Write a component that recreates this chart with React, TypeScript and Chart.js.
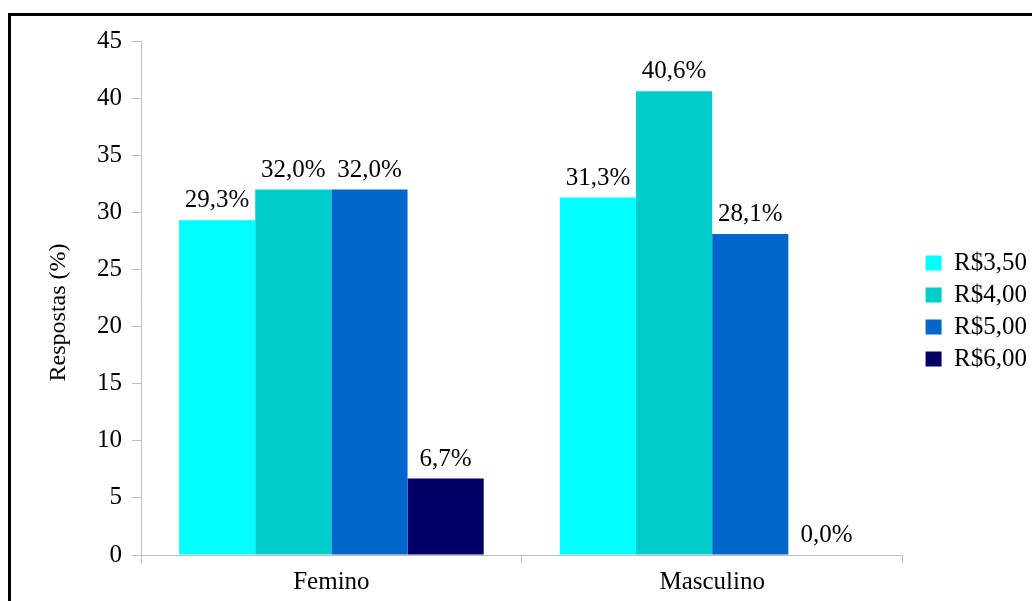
import React, { useEffect, useRef } from "react";
import { Chart, registerables } from "chart.js";

Chart.register(...registerables);

const categories = ["Femino", "Masculino"];
const seriesNames = ["R$3,50", "R$4,00", "R$5,00", "R$6,00"];
const seriesColors = ["#00FFFF", "#00CCCC", "#0066CC", "#000066"];
const values35 = [29.3, 31.3];
const values40 = [32.0, 40.6];
const values50 = [32.0, 28.1];
const values60 = [6.7, 0.0];
const yTicks = [0, 5, 10, 15, 20, 25, 30, 35, 40, 45];
const yTitle = "Respostas (%)";

const FONT = "'Liberation Serif', 'Times New Roman', serif";
const AXIS = "#bfbfbf";

const dataLabels = {
  id: "dataLabels",
  afterDatasetsDraw(chart: any) {
    const ctx = chart.ctx;
    ctx.save();
    ctx.font = `25px ${FONT}`;
    ctx.fillStyle = "#000";
    ctx.textAlign = "center";
    ctx.textBaseline = "bottom";
    chart.data.datasets.forEach((ds: any, i: number) => {
      const meta = chart.getDatasetMeta(i);
      meta.data.forEach((bar: any, j: number) => {
        const v = ds.data[j] as number;
        const label = v.toFixed(1).replace(".", ",") + "%";
        ctx.fillText(label, bar.x, bar.y - 7);
      });
    });
    ctx.restore();
  },
};

const legendShift = {
  id: "legendShift",
  afterLayout(chart: any) {
    const lg = chart.legend;
    if (lg) {
      lg.top -= 10;
      lg.bottom -= 10;
    }
  },
};

export default function App() {
  const ref = useRef<HTMLCanvasElement | null>(null);
  useEffect(() => {
    if (!ref.current) return;
    const all = [values35, values40, values50, values60];
    const chart = new Chart(ref.current, {
      type: "bar",
      data: {
        labels: categories,
        datasets: all.map((d, i) => ({
          label: seriesNames[i],
          data: d,
          backgroundColor: seriesColors[i],
          borderWidth: 0,
          categoryPercentage: 0.8,
          barPercentage: 1.0,
          yAxisID: "y",
        })),
      },
      options: {
        responsive: false,
        animation: false,
        layout: { padding: { left: 40, top: 41, right: -5, bottom: 0 } },
        plugins: {
          legend: {
            position: "right",
            labels: {
              boxWidth: 16,
              boxHeight: 15,
              padding: 7,
              color: "#000",
              font: { family: FONT, size: 25 },
            },
          },
          tooltip: { enabled: false },
        },
        scales: {
          x: {
            grid: {
              display: true,
              drawOnChartArea: false,
              drawTicks: true,
              tickLength: 8,
              color: AXIS,
              offset: true,
            },
            border: { display: true, color: AXIS },
            ticks: { color: "#000", padding: 4, font: { family: FONT, size: 25 } },
            afterFit: (s: any) => {
              s.height = 46;
            },
          },
          y: {
            min: 0,
            max: 45,
            afterBuildTicks: (s: any) => {
              s.ticks = yTicks.map((v) => ({ value: v }));
            },
            grid: {
              display: true,
              drawOnChartArea: false,
              drawTicks: true,
              tickLength: 9,
              color: AXIS,
            },
            border: { display: true, color: AXIS },
            ticks: { color: "#000", padding: 10, font: { family: FONT, size: 25 } },
            title: {
              display: true,
              text: yTitle + "\u2002\u2002\u2009",
              color: "#000",
              padding: { top: 4, bottom: 0 },
              font: { family: FONT, size: 24 },
            },
            afterFit: (s: any) => {
              s.width = 101;
            },
          },
          gap: {
            type: "linear",
            position: "right",
            display: true,
            grid: { display: false },
            border: { display: false },
            ticks: { display: false },
            afterFit: (s: any) => {
              s.width = 16;
            },
          },
        },
      },
      plugins: [dataLabels, legendShift],
    } as any);
    return () => chart.destroy();
  }, []);
  return (
    <div style={{ position: "fixed", left: 0, top: 0, width: 1032, height: 601, background: "#fff" }}>
      <canvas ref={ref} width={1032} height={601} style={{ position: "absolute", left: 0, top: 0 }} />
      <div
        style={{
          position: "absolute",
          left: 8,
          top: 13,
          width: 1021,
          height: 585,
          borderLeft: "3px solid #000",
          borderTop: "3px solid #000",
          pointerEvents: "none",
        }}
      />
    </div>
  );
}
